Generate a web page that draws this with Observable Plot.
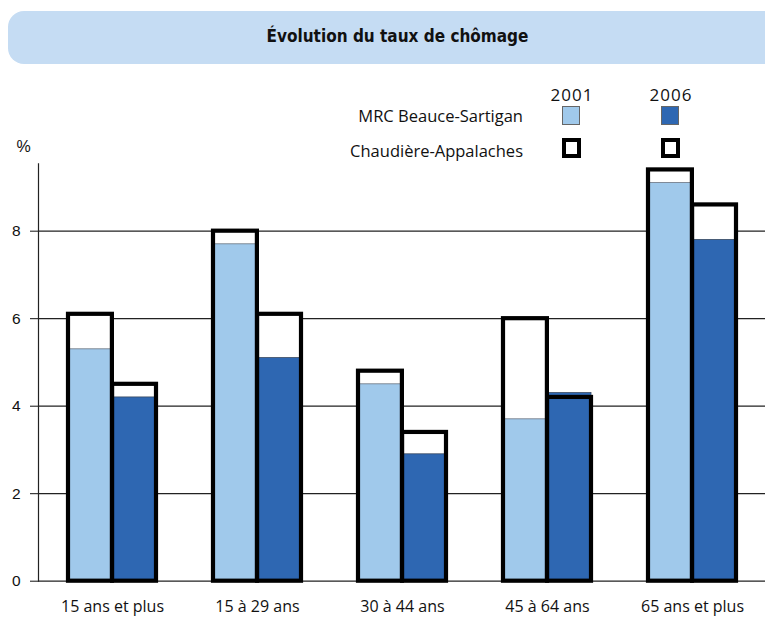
<!DOCTYPE html>
<html>
<head>
<meta charset="utf-8">
<script src="https://cdn.jsdelivr.net/npm/d3@7"></script>
<script src="https://cdn.jsdelivr.net/npm/@observablehq/plot@0.6"></script>
<style>
  html, body { margin: 0; padding: 0; background: #fff; }
  body { width: 765px; height: 617px; overflow: hidden; position: relative; font-family: "Open Sans", sans-serif; color: #111; }
  #titlebox { position: absolute; left: 8px; top: 11px; width: 790px; height: 53px; border-radius: 16px; background: #c5dcf3; }
  #title { position: absolute; left: 0; width: 795px; top: 26px; text-align: center; font-family: "DejaVu Sans Condensed", "DejaVu Sans", sans-serif; font-weight: bold; font-size: 17px; color: #111; }
  .yr { position: absolute; top: 83px; width: 60px; text-align: center; font-size: 17px; font-family: "Open Sans", sans-serif; letter-spacing: 1px; color: #111; }
  .lab { position: absolute; right: 242px; font-size: 16.5px; white-space: nowrap; color: #111; }
  .sw { position: absolute; box-sizing: border-box; }
  #chart { position: absolute; left: 0; top: 130px; }
</style>
</head>
<body>
<div id="titlebox"></div>
<div id="title"></div>
<div id="legend"></div>
<div id="chart"></div>
<script>
// ---- data ----
const categories = ["15 ans et plus", "15 à 29 ans", "30 à 44 ans", "45 à 64 ans", "65 ans et plus"];
const years = ["2001", "2006"];
const mrc2001 = [5.3, 7.7, 4.5, 3.7, 9.1];   // MRC Beauce-Sartigan 2001
const mrc2006 = [4.2, 5.1, 2.9, 4.3, 7.8];   // MRC Beauce-Sartigan 2006
const ca2001  = [6.1, 8.0, 4.8, 6.0, 9.4];   // Chaudière-Appalaches 2001
const ca2006  = [4.5, 6.1, 3.4, 4.2, 8.6];   // Chaudière-Appalaches 2006
const yTicks = [0, 2, 4, 6, 8];
const seriesNames = ["MRC Beauce-Sartigan", "Chaudière-Appalaches"];
const titleText = "Évolution du taux de chômage";
const yUnit = "%";

const lightBlue = "#a0c9eb";
const darkBlue = "#2e67b2";

// ---- title & legend (HTML) ----
document.getElementById("title").textContent = titleText;
const legend = document.getElementById("legend");
const yearX = {"2001": 562, "2006": 661};
years.forEach(y => {
  const d = document.createElement("div");
  d.className = "yr"; d.textContent = y;
  d.style.left = (yearX[y] + 10 - 30) + "px";
  legend.appendChild(d);
  const s1 = document.createElement("div");
  s1.className = "sw";
  Object.assign(s1.style, {left: yearX[y] + "px", top: "106px", width: "18px", height: "19px",
    background: y === "2001" ? lightBlue : darkBlue, border: "1px solid #666"});
  legend.appendChild(s1);
  const s2 = document.createElement("div");
  s2.className = "sw";
  Object.assign(s2.style, {left: yearX[y] + "px", top: "138px", width: "19px", height: "20px",
    background: "#fff", border: "4px solid #000"});
  legend.appendChild(s2);
});
seriesNames.forEach((n, i) => {
  const d = document.createElement("div");
  d.className = "lab"; d.textContent = n;
  d.style.top = (i === 0 ? 104 : 139) + "px";
  legend.appendChild(d);
});

// ---- chart ----
const rows = categories.flatMap((c, i) => [
  {cat: c, year: "2001", mrc: mrc2001[i], ca: ca2001[i]},
  {cat: c, year: "2006", mrc: mrc2006[i], ca: ca2006[i]}
]);
const r01 = rows.filter(d => d.year === "2001");
const r06 = rows.filter(d => d.year === "2006");
const half = 44.1;

const chart = Plot.plot({
  width: 765,
  height: 487,
  marginTop: 33.3,
  marginBottom: 36.3,
  marginLeft: 38,
  marginRight: 0,
  style: {background: "transparent", overflow: "visible"},
  x: {domain: categories, paddingInner: 0.394, paddingOuter: 0.193},
  y: {domain: [0, 9.54]},
  marks: [
    Plot.ruleY(yTicks, {stroke: "#222", strokeWidth: 1.2}),
    Plot.frame({anchor: "left", stroke: "#222", strokeWidth: 1.2}),
    // Chaudière-Appalaches: white interior
    Plot.barY(r01, {x: "cat", y: "ca", fill: "#fff", insetRight: half}),
    Plot.barY(r06, {x: "cat", y: "ca", fill: "#fff", insetLeft: half}),
    // MRC Beauce-Sartigan filled bars
    Plot.barY(r01, {x: "cat", y: "mrc", fill: lightBlue, stroke: "#6a7380", strokeWidth: 0.8, insetRight: half}),
    Plot.barY(r06, {x: "cat", y: "mrc", fill: darkBlue, stroke: "#3a4a60", strokeWidth: 0.8, insetLeft: half}),
    // Chaudière-Appalaches: thick black outline on top
    Plot.barY(r01, {x: "cat", y: "ca", fill: "none", stroke: "#000", strokeWidth: 4.2, insetRight: half}),
    Plot.barY(r06, {x: "cat", y: "ca", fill: "none", stroke: "#000", strokeWidth: 4.2, insetLeft: half}),
    Plot.axisY({ticks: yTicks, tickSize: 8, tickPadding: 10, fontSize: 15.5, fontFamily: "Liberation Sans, Arial, sans-serif", label: null}),
    Plot.text([yUnit], {frameAnchor: "top-left", textAnchor: "start", dx: -22, dy: -23, fontSize: 16, fontFamily: "Liberation Sans, Arial, sans-serif"}),
    Plot.axisX({tickSize: 0, tickPadding: 19, fontSize: 16, fontFamily: "Open Sans, sans-serif", label: null})
  ]
});
chart.querySelectorAll("text").forEach(t => t.setAttribute("fill", "#111"));
document.getElementById("chart").appendChild(chart);
</script>
</body>
</html>
